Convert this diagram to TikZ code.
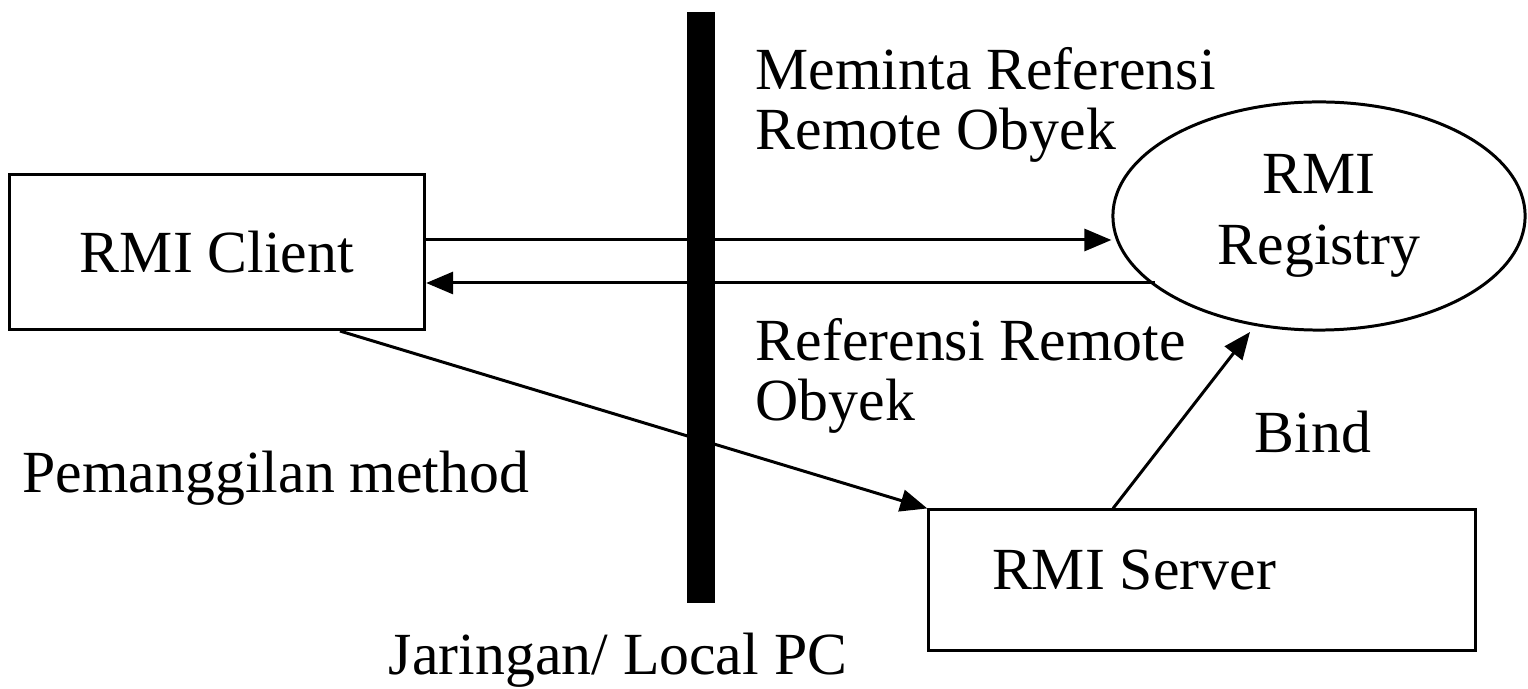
\documentclass[tikz,border=0pt]{standalone}
\usepackage{fontspec}
\setmainfont{Liberation Serif}
\usetikzlibrary{arrows.meta,shapes.geometric}
\begin{document}
\begin{tikzpicture}[x=0.01cm,y=0.01cm,font=\fontsize{17}{17}\selectfont]
\tikzstyle{box}=[draw,line width=0.85pt,inner sep=0pt]
\tikzstyle{lbl}=[anchor=west,align=left,inner sep=0pt]
\tikzstyle{arr}=[line width=0.85pt,-{Triangle[length=0.27cm,width=0.22cm]}]
\useasboundingbox (0,0) rectangle (1528,688);
\fill (687,85) rectangle (715,676);
\node[box,minimum width=4.15cm,minimum height=1.55cm] (client) at (217,436) {RMI Client};
\node[box,ellipse,minimum width=4.12cm,minimum height=2.28cm,align=center,
  font=\fontsize{17}{20}\selectfont] (registry) at (1319,472) {RMI\\Registry};
\node[box,minimum width=5.46cm,minimum height=1.4cm] (server) at (1202,108) {};
\node (srvtext) at (1134,118) {RMI Server};
\coordinate (up) at (0,448);
\coordinate (down) at (1155,405);
\draw[arr] (client.east |- up) -- (registry.west |- up);
\draw[arr] (down) -- (client.east |- down);
\draw[arr] (client.south) ++(123,0) -- (server.north west);
\draw[arr] (server.north) ++(-89,0) -- (1250,356);
\node[lbl] (minta) at (755,583) {Meminta Referensi\\Remote Obyek};
\node[lbl] (ref) at (755,312) {Referensi Remote\\Obyek};
\node (bind) at (1313,256) {Bind};
\node[lbl] (panggil) at (22,210) {Pemanggilan method};
\node (jaringan) at (618,28) {Jaringan/ Local PC};
\end{tikzpicture}
\end{document}
